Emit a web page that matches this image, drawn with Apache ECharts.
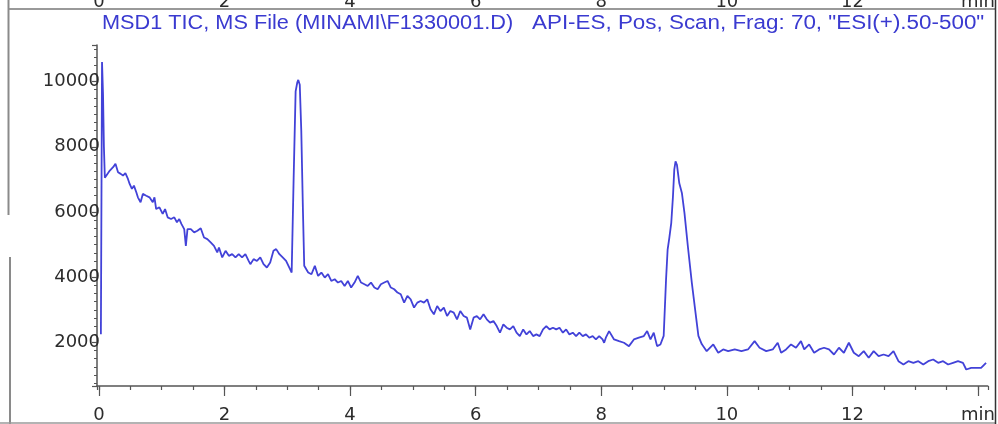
<!DOCTYPE html>
<html>
<head>
<meta charset="utf-8">
<style>
  html, body { margin: 0; padding: 0; background: #ffffff; }
  #chart { width: 998px; height: 424px; }
</style>
<script src="https://cdn.jsdelivr.net/npm/echarts@6/dist/echarts.min.js"></script>
</head>
<body>
<div id="chart"></div>
<script>
// Total ion chromatogram, retention time (min) vs. abundance
const titleLeft = 'MSD1 TIC, MS File (MINAMI\\F1330001.D)';
const titleRight = 'API-ES, Pos, Scan, Frag: 70, "ESI(+).50-500"';
const axisUnit = 'min';

const retentionTime = [
  0.032, 0.050, 0.066, 0.080, 0.095, 0.122, 0.174, 0.226, 0.264, 0.305,
  0.348, 0.384, 0.422, 0.463, 0.490, 0.526, 0.558, 0.596, 0.621, 0.664,
  0.700, 0.754, 0.806, 0.858, 0.885, 0.912, 0.964, 1.016, 1.054, 1.095,
  1.149, 1.201, 1.243, 1.280, 1.316, 1.359, 1.385, 1.411, 1.464, 1.517,
  1.569, 1.622, 1.674, 1.727, 1.780, 1.833, 1.885, 1.912, 1.964, 2.017,
  2.070, 2.122, 2.175, 2.227, 2.280, 2.333, 2.385, 2.412, 2.464, 2.517,
  2.570, 2.622, 2.675, 2.728, 2.780, 2.823, 2.875, 2.927, 2.981, 3.044,
  3.070, 3.101, 3.133, 3.160, 3.175, 3.199, 3.223, 3.250, 3.270, 3.333,
  3.385, 3.439, 3.491, 3.543, 3.597, 3.649, 3.701, 3.755, 3.807, 3.859,
  3.913, 3.965, 4.017, 4.071, 4.123, 4.175, 4.229, 4.281, 4.333, 4.387,
  4.439, 4.491, 4.545, 4.597, 4.649, 4.703, 4.755, 4.807, 4.861, 4.913,
  4.965, 5.019, 5.071, 5.123, 5.177, 5.229, 5.281, 5.335, 5.387, 5.439,
  5.493, 5.545, 5.597, 5.651, 5.703, 5.755, 5.809, 5.861, 5.913, 5.967,
  6.019, 6.071, 6.125, 6.177, 6.229, 6.283, 6.335, 6.387, 6.441, 6.493,
  6.545, 6.599, 6.651, 6.703, 6.757, 6.809, 6.861, 6.915, 6.967, 7.019,
  7.073, 7.125, 7.177, 7.231, 7.283, 7.335, 7.389, 7.441, 7.493, 7.547,
  7.599, 7.651, 7.705, 7.757, 7.809, 7.863, 7.915, 7.967, 8.021, 8.046,
  8.073, 8.125, 8.204, 8.283, 8.362, 8.441, 8.520, 8.599, 8.678, 8.731,
  8.784, 8.836, 8.889, 8.942, 8.994, 9.032, 9.057, 9.084, 9.115, 9.142,
  9.163, 9.183, 9.205, 9.242, 9.284, 9.325, 9.379, 9.442, 9.494, 9.547,
  9.600, 9.679, 9.784, 9.863, 9.942, 10.021, 10.126, 10.232, 10.336, 10.442,
  10.521, 10.627, 10.731, 10.810, 10.864, 10.943, 11.022, 11.101, 11.180, 11.232,
  11.311, 11.390, 11.469, 11.548, 11.627, 11.706, 11.785, 11.864, 11.943, 12.022,
  12.101, 12.180, 12.259, 12.338, 12.417, 12.496, 12.575, 12.654, 12.733, 12.812,
  12.891, 12.970, 13.049, 13.128, 13.207, 13.286, 13.365, 13.444, 13.523, 13.602,
  13.681, 13.760, 13.812, 13.891, 13.970, 14.049, 14.128
];

const abundance = [
  2250, 10600, 9600, 8000, 7050, 7015, 7270, 7375, 7477, 7220,
  7170, 7117, 7190, 7015, 6860, 6710, 6810, 6605, 6450, 6300,
  6555, 6500, 6450, 6300, 6450, 6090, 6145, 5940, 6090, 5837,
  5785, 5837, 5683, 5785, 5630, 5477, 4963, 5477, 5477, 5375,
  5425, 5500, 5220, 5170, 5068, 4963, 4760, 4913, 4606, 4810,
  4655, 4708, 4606, 4708, 4606, 4708, 4500, 4400, 4555, 4500,
  4606, 4400, 4298, 4452, 4810, 4862, 4708, 4606, 4500, 4246,
  4144, 7000, 9700, 9980, 10050, 9900, 8500, 6000, 4350, 4144,
  4092, 4348, 4040, 4144, 3990, 4092, 3886, 3938, 3837, 3886,
  3732, 3886, 3683, 3837, 4040, 3837, 3785, 3732, 3837, 3683,
  3631, 3785, 3837, 3886, 3683, 3631, 3530, 3477, 3221, 3425,
  3323, 3068, 3221, 3270, 3221, 3323, 3015, 2862, 3117, 2963,
  3068, 2810, 2963, 2914, 2708, 2963, 2810, 2760, 2400, 2760,
  2810, 2708, 2862, 2708, 2606, 2655, 2502, 2298, 2554, 2452,
  2400, 2502, 2298, 2194, 2400, 2246, 2348, 2194, 2246, 2194,
  2400, 2502, 2400, 2452, 2400, 2452, 2298, 2400, 2246, 2298,
  2194, 2298, 2194, 2246, 2145, 2194, 2092, 2194, 2092, 1990,
  2145, 2348, 2092, 2040, 1990, 1886, 2092, 2145, 2194, 2348,
  2092, 2298, 1886, 1938, 2200, 3935, 4850, 5210, 5670, 6480,
  7300, 7550, 7450, 6890, 6585, 5975, 4950, 3835, 3020, 2200,
  1950, 1733, 1938, 1683, 1785, 1733, 1785, 1733, 1785, 2040,
  1837, 1733, 1785, 1990, 1683, 1785, 1938, 1837, 2040, 1785,
  1938, 1683, 1785, 1837, 1785, 1630, 1837, 1683, 1990, 1683,
  1580, 1733, 1528, 1733, 1580, 1630, 1580, 1733, 1425, 1323,
  1425, 1375, 1425, 1323, 1425, 1477, 1375, 1425, 1323, 1375,
  1425, 1375, 1170, 1220, 1220, 1220, 1375
];

// Axis extents and label steps
const timeMin = -0.03, timeMax = 14.155;
const abundanceMin = 664, abundanceMax = 11122;
const timeLabelStep = 2;
const abundanceLabelStep = 2000;

const points = retentionTime.map((t, i) => [t, abundance[i]]);

const labelFont = 'DejaVu Sans';
const axisGray = '#555555';
const labelGray = '#2c2c2c';
const traceBlue = '#4242d8';
const titleBlue = '#3a3ad0';

function timeLabel(v) {
  if (Math.abs(v - 14) < 1e-6) return axisUnit;
  return (Math.abs(v % timeLabelStep) < 1e-6) ? String(Math.round(v)) : '';
}

const chart = echarts.init(document.getElementById('chart'), null, { renderer: 'canvas' });

chart.setOption({
  animation: false,
  backgroundColor: '#ffffff',
  grid: [
    { left: 97, right: 3, top: 45, bottom: 37 },
    { left: 97, right: 3, top: 9, height: 10 }
  ],
  xAxis: [
    {
      gridIndex: 0, type: 'value', position: 'bottom',
      min: timeMin, max: timeMax, splitNumber: 7,
      axisLine: { show: true, onZero: false, lineStyle: { color: axisGray, width: 1.5 } },
      axisTick: { show: true, length: 10, lineStyle: { color: axisGray, width: 1.2 } },
      axisLabel: {
        show: true, margin: 20, color: labelGray, fontFamily: labelFont, fontSize: 18,
        showMinLabel: false, showMaxLabel: false, formatter: timeLabel
      },
      splitLine: { show: false }
    },
    {
      gridIndex: 0, type: 'value', position: 'bottom',
      min: timeMin, max: timeMax, splitNumber: 28,
      axisLine: { show: false, onZero: false },
      axisTick: { show: true, length: 4, lineStyle: { color: axisGray, width: 1.2 } },
      axisLabel: { show: false },
      splitLine: { show: false }
    },
    {
      gridIndex: 1, type: 'value', position: 'top',
      min: timeMin, max: timeMax, splitNumber: 7,
      axisLine: { show: false, onZero: false },
      axisTick: { show: false },
      axisLabel: {
        show: true, margin: 8, color: labelGray, fontFamily: labelFont, fontSize: 18,
        showMinLabel: false, showMaxLabel: false, formatter: timeLabel
      },
      splitLine: { show: false }
    }
  ],
  yAxis: [
    {
      gridIndex: 0, type: 'value',
      min: abundanceMin, max: abundanceMax, splitNumber: 5,
      axisLine: { show: true, onZero: false, lineStyle: { color: axisGray, width: 1.5 } },
      axisTick: { show: true, length: 5, lineStyle: { color: axisGray, width: 1.2 } },
      minorTick: { show: true, splitNumber: 8, length: 3, lineStyle: { color: axisGray, width: 1 } },
      axisLabel: {
        show: true, margin: -3, color: labelGray, fontFamily: labelFont, fontSize: 18,
        showMinLabel: false, showMaxLabel: false,
        formatter: v => (v % abundanceLabelStep === 0 ? String(v) : '')
      },
      splitLine: { show: false },
      minorSplitLine: { show: false }
    },
    { gridIndex: 1, type: 'value', show: false }
  ],
  series: [
    {
      type: 'line',
      xAxisIndex: 0, yAxisIndex: 0,
      data: points,
      showSymbol: false,
      symbol: 'none',
      lineStyle: { color: traceBlue, width: 1.8 },
      z: 1
    }
  ],
  graphic: [
    // frame lines of the printed panel
    { type: 'line', shape: { x1: 8, y1: 9, x2: 998, y2: 9 }, style: { stroke: '#777', lineWidth: 1.5 }, z: 10 },
    { type: 'line', shape: { x1: 8.5, y1: 0, x2: 8.5, y2: 215 }, style: { stroke: '#8a8a8a', lineWidth: 2 }, z: 10 },
    { type: 'line', shape: { x1: 10, y1: 257, x2: 10, y2: 424 }, style: { stroke: '#8a8a8a', lineWidth: 2 }, z: 10 },
    { type: 'line', shape: { x1: 0, y1: 423, x2: 998, y2: 423 }, style: { stroke: '#9a9a9a', lineWidth: 1.5 }, z: 10 },
    { type: 'rect', shape: { x: 996, y: 0, width: 2, height: 424 }, style: { fill: '#ffffff' }, z: 11 },
    { type: 'line', shape: { x1: 995.5, y1: 0, x2: 995.5, y2: 424 }, style: { stroke: '#333', lineWidth: 1.5 }, z: 12 },
    // chromatogram header
    {
      type: 'text', x: 102, y: 13, scaleX: 1.085, z: 10,
      style: { text: titleLeft, font: '20px "Liberation Sans", Arial, sans-serif', fill: titleBlue, align: 'left', verticalAlign: 'top' }
    },
    {
      type: 'text', x: 532, y: 13, scaleX: 1.12, z: 10,
      style: { text: titleRight, font: '20px "Liberation Sans", Arial, sans-serif', fill: titleBlue, align: 'left', verticalAlign: 'top' }
    }
  ]
});
</script>
</body>
</html>
